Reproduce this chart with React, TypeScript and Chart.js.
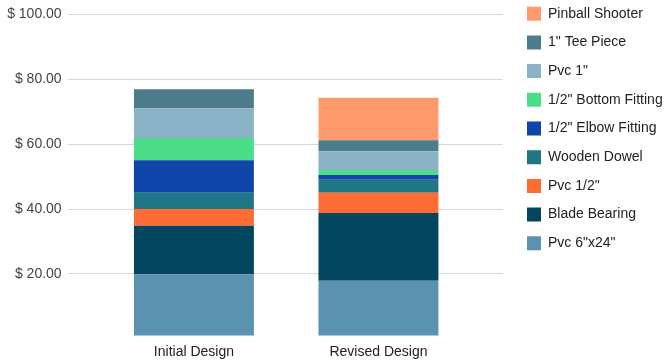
import React, { useEffect, useRef } from "react";
import { Chart, registerables } from "chart.js";

Chart.register(...registerables);

const categories = ["Initial Design", "Revised Design"];

const seriesNames = [
  'Pvc 6"x24"',
  "Blade Bearing",
  "Pvc 1/2\"",
  "Wooden Dowel",
  '1/2" Elbow Fitting',
  '1/2" Bottom Fitting',
  'Pvc 1"',
  '1" Tee Piece',
  "Pinball Shooter",
];

const pvc6x24 = [19.8, 17.9];
const bladeBearing = [15.0, 20.9];
const pvcHalf = [5.2, 6.2];
const woodenDowel = [5.0, 4.0];
const elbowFitting = [10.0, 1.5];
const bottomFitting = [6.9, 1.5];
const pvcOne = [9.2, 5.8];
const teePiece = [5.8, 3.4];
const pinballShooter = [0, 13.1];

const seriesValues = [
  pvc6x24,
  bladeBearing,
  pvcHalf,
  woodenDowel,
  elbowFitting,
  bottomFitting,
  pvcOne,
  teePiece,
  pinballShooter,
];

const seriesColors = [
  "#5a92af",
  "#02475e",
  "#fe6c33",
  "#1f7685",
  "#0f45a8",
  "#4cdd88",
  "#8ab3c7",
  "#4d7c8e",
  "#ff9a6d",
];

const yTicks = [20, 40, 60, 80, 100];

const FONT = "'Liberation Sans', Arial, sans-serif";

const legendMover = {
  id: "legendMover",
  afterLayout(chart: any) {
    const lg = chart.legend;
    if (!lg) return;
    const h = lg.bottom - lg.top;
    const w = lg.right - lg.left;
    lg.top = -8;
    lg.bottom = lg.top + h;
    lg.left = 512.3;
    lg.right = lg.left + w;
  },
};

export default function App() {
  const ref = useRef<HTMLCanvasElement | null>(null);

  useEffect(() => {
    if (!ref.current) return;
    const gridColor = "#d6d6d6";
    const chart = new Chart(ref.current, {
      type: "bar",
      data: {
        labels: categories,
        datasets: seriesNames.map((name, i) => ({
          label: name,
          data: seriesValues[i],
          backgroundColor: seriesColors[i],
          borderWidth: 0,
          barPercentage: 0.65,
          categoryPercentage: 1,
        })),
      },
      options: {
        responsive: false,
        animation: false,
        layout: { padding: { top: 13.5, left: 0, right: 0, bottom: 0 } },
        plugins: {
          tooltip: { enabled: false },
          legend: {
            position: "right",
            align: "start",
            reverse: true,
            maxWidth: 175,
            labels: {
              font: { family: FONT, size: 14 },
              color: "#222",
              boxWidth: 14,
              boxHeight: 14,
              padding: 14.7,
            },
          },
        },
        scales: {
          x: {
            stacked: true,
            grid: { display: false },
            border: { display: false },
            ticks: {
              font: { family: FONT, size: 14 },
              color: "#222",
              padding: 0,
            },
            afterFit: (s: any) => {
              s.height = 26.5;
            },
          },
          y: {
            stacked: true,
            min: 1,
            max: 100,
            afterBuildTicks: (s: any) => {
              s.ticks = yTicks.map((v) => ({ value: v }));
            },
            grid: {
              color: gridColor,
              tickLength: 34,
              lineWidth: 1,
            },
            border: { display: false },
            ticks: {
              font: { family: FONT, size: 14 },
              color: "#444",
              padding: 6,
              callback: (v: any) => "$ " + Number(v).toFixed(2),
            },
            afterFit: (s: any) => {
              s.width = 101.65;
            },
          },
          y2: {
            position: "right",
            min: 1,
            max: 100,
            afterBuildTicks: (s: any) => {
              s.ticks = yTicks.map((v) => ({ value: v }));
            },
            grid: {
              color: gridColor,
              drawOnChartArea: false,
              tickLength: 32,
            },
            border: { display: false },
            ticks: { display: false },
            afterFit: (s: any) => {
              s.width = 38.9;
            },
          },
        },
      },
      plugins: [legendMover],
    });
    return () => chart.destroy();
  }, []);

  return (
    <div style={{ position: "fixed", left: 0, top: 0, width: 670, height: 362, background: "#fff" }}>
      <canvas ref={ref} width={670} height={362} />
    </div>
  );
}
